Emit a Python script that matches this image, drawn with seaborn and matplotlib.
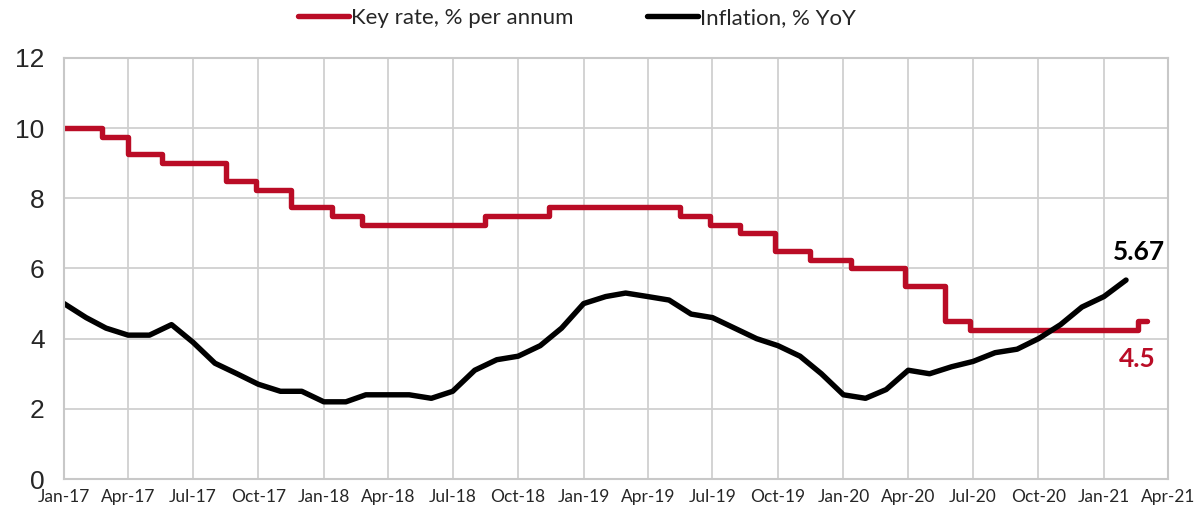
import matplotlib
matplotlib.use("Agg")
import matplotlib.pyplot as plt
import matplotlib.dates as mdates
import seaborn as sns
import pandas as pd

# key rate: change dates as they sit on the chart, and the new level
rate_dates = ["2017-01-01", "2017-02-24", "2017-04-01", "2017-05-19", "2017-08-17",
              "2017-09-28", "2017-11-16", "2018-01-13", "2018-02-23", "2018-08-16",
              "2018-11-13", "2019-05-16", "2019-06-27", "2019-08-08", "2019-09-27",
              "2019-11-15", "2020-01-11", "2020-03-27", "2020-05-23", "2020-06-27",
              "2021-02-18", "2021-03-03"]
rate_values = [10.00, 9.75, 9.25, 9.00, 8.50,
               8.25, 7.75, 7.50, 7.25, 7.50,
               7.75, 7.50, 7.25, 7.00, 6.50,
               6.25, 6.00, 5.50, 4.50, 4.25,
               4.50, 4.50]

# inflation, monthly, Jan-17 .. Feb-21
infl_start = "2017-01-01"
infl_values = [5.0, 4.6, 4.3, 4.1, 4.1, 4.4, 3.9, 3.3, 3.0, 2.7, 2.5, 2.5,
               2.2, 2.2, 2.4, 2.4, 2.4, 2.3, 2.5, 3.1, 3.4, 3.5, 3.8, 4.3,
               5.0, 5.2, 5.3, 5.2, 5.1, 4.7, 4.6, 4.3, 4.0, 3.8, 3.5, 3.0,
               2.4, 2.3, 2.55, 3.1, 3.0, 3.2, 3.35, 3.6, 3.7, 4.0, 4.4, 4.9,
               5.2, 5.67]

rate_label = "Key rate, % per annum"
infl_label = "Inflation, % YoY"
RED = "#BA0C26"
TXT = ["Lato", "DejaVu Sans"]

rate_df = pd.DataFrame({"date": pd.to_datetime(rate_dates), "value": rate_values})
infl_df = pd.DataFrame({"date": pd.date_range(infl_start, periods=len(infl_values), freq="MS"),
                        "value": infl_values})

sns.set_style("white")
plt.rcParams["font.family"] = ["Liberation Sans", "DejaVu Sans"]

fig = plt.figure(figsize=(11.97, 5.11), dpi=100)
ax = fig.add_axes([0.0535, 0.0626, 0.9223, 0.824])

sns.lineplot(data=rate_df, x="date", y="value", ax=ax, color=RED, lw=3.9,
             drawstyle="steps-post", label=rate_label)
sns.lineplot(data=infl_df, x="date", y="value", ax=ax, color="black", lw=3.9,
             label=infl_label)

ax.set_xlim(pd.Timestamp("2017-01-01"), pd.Timestamp("2021-04-01"))
ax.set_ylim(0, 12)
ax.set_yticks(range(0, 13, 2))
ax.xaxis.set_major_locator(mdates.MonthLocator(bymonth=[1, 4, 7, 10]))
ax.xaxis.set_major_formatter(mdates.DateFormatter("%b-%y"))
ax.set_xlabel("")
ax.set_ylabel("")

ax.grid(True, color="#d0d0d0", lw=1.3)
ax.set_axisbelow(True)
for s in ax.spines.values():
    s.set_color("#c8c8c8")
    s.set_linewidth(1.5)

ax.tick_params(axis="y", length=0, pad=14, labelsize=19)
ax.tick_params(axis="x", length=0, pad=7)
for t in ax.get_xticklabels():
    t.set_fontfamily(TXT)
    t.set_fontsize(12.5)

# end labels
ax.annotate("5.67", xy=(infl_df["date"].iloc[-1], infl_df["value"].iloc[-1]),
            xytext=(9, 20), textcoords="offset points", ha="center", va="center",
            fontsize=19, fontweight="bold", color="black", family=TXT)
ax.annotate("4.5", xy=(rate_df["date"].iloc[-1], rate_df["value"].iloc[-1]),
            xytext=(-7, -27), textcoords="offset points", ha="center", va="center",
            fontsize=19, fontweight="bold", color=RED, family=TXT)

ax.legend_.remove()
handles, labels = ax.get_legend_handles_labels()
fig.legend(handles, labels, loc="center", bbox_to_anchor=(0.482, 0.965), ncol=2,
           frameon=False, handlelength=2.3, handletextpad=0.1, columnspacing=3.3,
           prop={"family": TXT, "size": 16})

fig.savefig("out.png", dpi=100)
